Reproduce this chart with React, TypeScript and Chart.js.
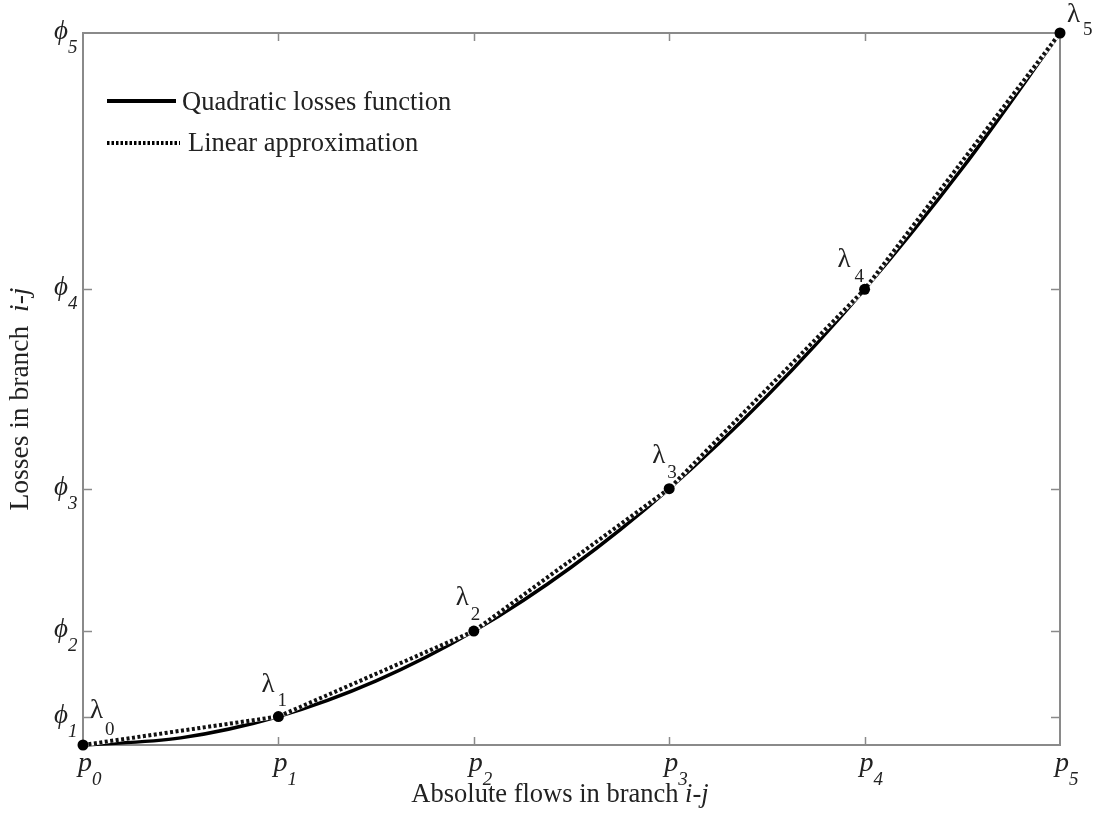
import React, { useEffect, useRef } from "react";
import { Chart, registerables } from "chart.js";

Chart.register(...registerables);

// Breakpoints of the piecewise-linear approximation
const knotFlows = [0, 1, 2, 3, 4, 5];
const knotLosses = [0, 1, 4, 9, 16, 25];

// Samples along the quadratic losses curve
const curveFlows = [0, 0.5, 1, 1.5, 2, 2.5, 3, 3.5, 4, 4.5, 5];
const curveLosses = [0, 0.25, 1, 2.25, 4, 6.25, 9, 12.25, 16, 20.25, 25];

// Tick label subscripts
const flowTickSubs = ["0", "1", "2", "3", "4", "5"];
const lossTickSubs = ["1", "2", "3", "4", "5"];
const lossTickValues = [1, 4, 9, 16, 25];
const knotLabelSubs = ["0", "1", "2", "3", "4", "5"];

const SERIF = '"Liberation Serif", "DejaVu Serif", serif';

// Offsets of the λ labels relative to their breakpoint: [dx, dy, subDx, subDy]
const knotLabelOffsets: number[][] = [
  [7, -27, 22, -10],
  [-17, -25, -1, -11],
  [-18, -26, -3, -11],
  [-17, -26, -2, -11],
  [-27, -22, -10, -7],
  [7, -11, 23, 2],
];

const annotate = {
  id: "annotate",
  beforeDatasetsDraw(chart: any) {
    const { ctx, chartArea } = chart;
    const { left, right, top, bottom } = chartArea;
    const xs = chart.scales.x;
    const ys = chart.scales.y;
    ctx.save();
    ctx.strokeStyle = "#8a8a8a";
    ctx.lineWidth = 2;
    ctx.strokeRect(left, top, right - left, bottom - top);
    ctx.lineWidth = 1.5;
    ctx.beginPath();
    knotFlows.slice(1, -1).forEach((v) => {
      const x = Math.round(xs.getPixelForValue(v)) + 0.5;
      ctx.moveTo(x, bottom);
      ctx.lineTo(x, bottom - 8);
      ctx.moveTo(x, top);
      ctx.lineTo(x, top + 8);
    });
    lossTickValues.slice(0, -1).forEach((v) => {
      const y = Math.round(ys.getPixelForValue(v)) + 0.5;
      ctx.moveTo(left, y);
      ctx.lineTo(left + 9, y);
      ctx.moveTo(right, y);
      ctx.lineTo(right - 9, y);
    });
    ctx.stroke();
    ctx.restore();
  },
  afterDraw(chart: any) {
    const { ctx, chartArea } = chart;
    const { left, bottom } = chartArea;
    const xs = chart.scales.x;
    const ys = chart.scales.y;
    ctx.save();
    ctx.fillStyle = "#222";
    ctx.textBaseline = "alphabetic";
    ctx.textAlign = "left";

    // x tick labels p_k
    flowTickSubs.forEach((s, i) => {
      const x = xs.getPixelForValue(knotFlows[i]);
      ctx.font = `italic 28px ${SERIF}`;
      ctx.fillText("p", x - 5, bottom + 26);
      ctx.font = `italic 19px ${SERIF}`;
      ctx.fillText(s, x + 9, bottom + 40);
    });

    // y tick labels ϕ_k
    lossTickSubs.forEach((s, i) => {
      const y = ys.getPixelForValue(lossTickValues[i]);
      ctx.font = `italic 27px ${SERIF}`;
      ctx.fillText("ϕ", left - 29, y + 6);
      ctx.font = `italic 19px ${SERIF}`;
      ctx.fillText(s, left - 15, y + 20);
    });

    // λ_k labels at the breakpoints
    knotLabelSubs.forEach((s, i) => {
      const x = xs.getPixelForValue(knotFlows[i]);
      const y = ys.getPixelForValue(knotLosses[i]);
      const [dx, dy, sdx, sdy] = knotLabelOffsets[i];
      ctx.font = `27px ${SERIF}`;
      ctx.fillText("λ", x + dx, y + dy);
      ctx.font = `19px ${SERIF}`;
      ctx.fillText(s, x + sdx, y + sdy);
    });

    // x axis title
    const xMain = "Absolute flows in branch ";
    ctx.font = `26.5px ${SERIF}`;
    const w1 = ctx.measureText(xMain).width;
    ctx.font = `italic 26.5px ${SERIF}`;
    const w2 = ctx.measureText("i-j").width;
    const xStart = 560 - (w1 + w2) / 2;
    ctx.font = `26.5px ${SERIF}`;
    ctx.fillText(xMain, xStart, 802);
    ctx.font = `italic 26.5px ${SERIF}`;
    ctx.fillText("i-j", xStart + w1, 802);

    // y axis title
    ctx.save();
    ctx.translate(28, 399);
    ctx.rotate(-Math.PI / 2);
    const yMain = "Losses in branch  ";
    ctx.font = `27.5px ${SERIF}`;
    const v1 = ctx.measureText(yMain).width;
    ctx.font = `italic 27.5px ${SERIF}`;
    const v2 = ctx.measureText("i-j").width;
    const yStart = -(v1 + v2) / 2;
    ctx.font = `27.5px ${SERIF}`;
    ctx.fillText(yMain, yStart, 0);
    ctx.font = `italic 27.5px ${SERIF}`;
    ctx.fillText("i-j", yStart + v1, 0);
    ctx.restore();

    // legend
    ctx.strokeStyle = "#000";
    ctx.lineWidth = 4;
    ctx.beginPath();
    ctx.moveTo(107, 101);
    ctx.lineTo(176, 101);
    ctx.stroke();
    ctx.setLineDash([2.5, 2]);
    ctx.lineWidth = 4;
    ctx.beginPath();
    ctx.moveTo(107, 143);
    ctx.lineTo(180, 143);
    ctx.stroke();
    ctx.setLineDash([]);
    ctx.font = `26.5px ${SERIF}`;
    ctx.fillText("Quadratic losses function", 182, 110);
    ctx.fillText("Linear approximation", 188, 151);
    ctx.restore();
  },
};

export default function App() {
  const canvasRef = useRef<HTMLCanvasElement>(null);

  useEffect(() => {
    const canvas = canvasRef.current;
    if (!canvas) return;
    const curve = curveFlows.map((x, i) => ({ x, y: curveLosses[i] }));
    const knots = knotFlows.map((x, i) => ({ x, y: knotLosses[i] }));
    const chart = new Chart(canvas, {
      type: "line",
      data: {
        datasets: [
          {
            label: "Quadratic losses function",
            data: curve,
            borderColor: "#000",
            borderWidth: 3.5,
            pointRadius: 0,
            cubicInterpolationMode: "monotone",
            order: 3,
            clip: false,
          } as any,
          {
            label: "Linear approximation (backing)",
            data: knots,
            borderColor: "#ffffff",
            borderWidth: 4,
            pointRadius: 0,
            tension: 0,
            order: 2,
            clip: false,
          } as any,
          {
            label: "Linear approximation",
            data: knots,
            borderColor: "#111",
            borderWidth: 4,
            borderDash: [3, 2.5],
            pointRadius: 0,
            tension: 0,
            order: 1,
            clip: false,
          } as any,
          {
            label: "Breakpoints",
            data: knots,
            showLine: false,
            pointRadius: 5.5,
            pointBackgroundColor: "#000",
            pointBorderWidth: 0,
            order: 0,
            clip: false,
          } as any,
        ],
      },
      options: {
        responsive: false,
        animation: false,
        devicePixelRatio: 1,
        layout: { padding: { left: 83, right: 33, top: 33, bottom: 71 } },
        scales: {
          x: { type: "linear", min: 0, max: 5, display: false },
          y: { type: "linear", min: 0, max: 25, display: false },
        },
        plugins: {
          legend: { display: false },
          tooltip: { enabled: false },
        },
      },
      plugins: [annotate],
    });
    return () => chart.destroy();
  }, []);

  return (
    <div style={{ position: "fixed", left: 0, top: 0, width: 1093, height: 816, background: "#fff" }}>
      <canvas ref={canvasRef} width={1093} height={816} style={{ width: 1093, height: 816 }} />
    </div>
  );
}
